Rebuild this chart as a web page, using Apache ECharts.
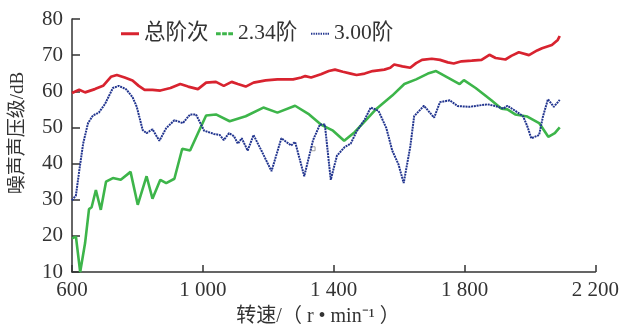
<!DOCTYPE html>
<html><head><meta charset="utf-8">
<script src="https://cdn.jsdelivr.net/npm/echarts@6/dist/echarts.min.js"></script>
<style>html,body{margin:0;padding:0;background:#fff}#c{width:622px;height:328px}</style>
</head><body><div id="c"></div>
<script>
const seriesNames = ['总阶次', '2.34阶', '3.00阶'];
const xTicks = [600, 1000, 1400, 1800, 2200];
const yTicks = [10, 20, 30, 40, 50, 60, 70, 80];
const xName = '转速/（ r • min⁻¹ ）';
const yName = '噪声声压级/dB';

const totalRpm = [600,622,640,670,695,719,737,761,785,804,822,846,870,901,931,955,985,1010,1040,1064,1088,1107,1131,1155,1192,1228,1276,1301,1313,1331,1361,1385,1404,1428,1452,1470,1495,1519,1555,1573,1585,1610,1634,1652,1670,1700,1725,1749,1767,1791,1822,1852,1876,1895,1925,1943,1966,1997,2022,2037,2067,2085,2091];
const totalVal = [59.5,60.4,59.7,60.6,61.5,64,64.5,63.8,63,61.5,60.4,60.4,60.2,60.9,62,61.3,60.6,62.4,62.6,61.5,62.6,62,61.3,62.4,63,63.3,63.3,63.8,64.2,63.8,64.7,65.6,66,65.4,64.9,64.5,64.9,65.6,66,66.5,67.4,66.9,66.5,67.8,68.7,69,68.7,68,67.7,68.3,68.5,68.7,70.1,69.2,68.8,69.8,70.8,70,71.3,71.9,72.8,74.2,75.3];

const o234Rpm = [600,612,625,640,652,660,673,688,704,725,749,779,801,828,846,870,888,913,937,961,985,1010,1040,1082,1131,1185,1228,1282,1325,1361,1398,1432,1464,1495,1531,1579,1616,1652,1688,1713,1749,1785,1798,1834,1882,1913,1931,1955,1992,2028,2056,2076,2091];
const o234Val = [19.3,19.8,10,18,27.4,27.9,32.7,27.2,35,36,35.5,37.7,28.6,36.5,30.3,35.5,34.6,35.8,44.1,43.6,48.4,53.3,53.6,51.7,53.1,55.5,54.1,56,53.6,50.8,49.1,46.3,48.7,51.7,55.2,58.8,62,63.3,64.9,65.6,63.8,62,63.1,60.9,57.5,55.2,55,53.6,53,51.2,47.4,48.4,50];

const o300Rpm = [600,612,622,634,649,664,682,701,707,725,743,765,785,798,804,816,828,846,867,888,913,939,961,979,1004,1034,1052,1064,1080,1095,1107,1119,1137,1155,1179,1210,1240,1270,1282,1310,1337,1358,1373,1391,1410,1434,1452,1470,1495,1513,1537,1561,1579,1598,1614,1634,1646,1676,1707,1725,1755,1779,1816,1846,1870,1895,1919,1931,1955,1979,1992,2004,2028,2040,2055,2073,2091];
const o300Val = [29.8,31.2,37.9,45.5,51.2,53.3,54.1,56.5,56.6,60.9,61.5,60.6,58.4,55.7,55.5,49.3,48.4,49.5,46.3,49.8,52,51.2,53.6,53.6,49.1,48.2,47.9,46.5,48.4,47.6,45.5,47,43.6,47.9,43.6,37.9,47,45,46,36.5,46.5,50.8,50.8,35.5,42.2,44.6,45.5,48.9,52.2,55.5,54.6,49.8,43.6,39.8,34.6,44.6,53.1,56,52.7,57,57.5,55.9,55.7,56.1,56.4,55.9,55.2,56,54.6,53.1,50.3,47,47.9,53.1,57.8,55.7,57.6];

const markRpm = [1337];
const markVal = [44.1];

const pair = (xs, ys) => xs.map((x, i) => [x, ys[i]]);
const FONT = '"Liberation Serif","Noto Sans CJK SC",serif';
const colors = ['#d8232f', '#3db54a', '#22358f'];
const legendLeft = [121, 216, 311];
const legendIcon = [
  'rect',
  'path://M0,0h5v3h-5zM6.5,0h5v3h-5zM13,0h5v3h-5z',
  'path://M0,0h1.4v2h-1.4zM2.4,0h1.4v2h-1.4zM4.8,0h1.4v2h-1.4zM7.2,0h1.4v2h-1.4zM9.6,0h1.4v2h-1.4zM12,0h1.4v2h-1.4zM14.4,0h1.4v2h-1.4zM16.6,0h1.4v2h-1.4z'
];
const legendIconW = [18, 17, 18];
const legendIconH = [3, 3, 2];

const chart = echarts.init(document.getElementById('c'), null, {renderer: 'canvas'});
chart.setOption({
  animation: false,
  grid: {left: 72, right: 25, top: 19, bottom: 56, containLabel: false},
  legend: seriesNames.map((n, i) => ({
    top: 23, left: legendLeft[i], padding: 0, itemGap: 0,
    itemWidth: legendIconW[i], itemHeight: legendIconH[i],
    textStyle: {fontFamily: FONT, fontSize: 21.5, color: '#333'},
    data: [{name: n, icon: legendIcon[i]}]
  })),
  xAxis: {
    type: 'value', min: 600, max: 2200, interval: 400,
    axisLine: {lineStyle: {color: '#333', width: 1.5}},
    axisTick: {inside: true, length: 7, lineStyle: {color: '#333', width: 1.5}},
    axisLabel: {fontFamily: FONT, fontSize: 21, color: '#333', margin: 8,
      formatter: v => String(v).replace(/(\d)(\d{3})$/, '$1 $2')},
    splitLine: {show: false}
  },
  yAxis: {
    type: 'value', min: 10, max: 80, interval: 10,
    axisLine: {show: true, lineStyle: {color: '#333', width: 1.5}},
    axisTick: {show: true, inside: true, length: 8, lineStyle: {color: '#333', width: 1.5}},
    axisLabel: {fontFamily: FONT, fontSize: 21, color: '#333', margin: 9},
    splitLine: {show: false}
  },
  graphic: [
    {type: 'text', x: 318, y: 317, style: {text: xName, font: '20px ' + FONT, fill: '#333', textAlign: 'center', textVerticalAlign: 'middle'}},
    {type: 'text', x: 18, y: 133, rotation: Math.PI / 2, style: {text: yName, font: '19px ' + FONT, fill: '#333', textAlign: 'center', textVerticalAlign: 'middle'}}
  ],
  series: [
    {name: seriesNames[0], type: 'line', symbol: 'none', data: pair(totalRpm, totalVal),
      lineStyle: {color: colors[0], width: 2.7}, itemStyle: {color: colors[0]}},
    {name: seriesNames[1], type: 'line', symbol: 'none', data: pair(o234Rpm, o234Val),
      lineStyle: {color: colors[1], width: 2.6}, itemStyle: {color: colors[1]}},
    {name: seriesNames[2], type: 'line', symbol: 'none', data: pair(o300Rpm, o300Val),
      lineStyle: {color: colors[2], width: 2, type: [2, 0.8]}, itemStyle: {color: colors[2]}},
    {name: 'mark', type: 'scatter', data: pair(markRpm, markVal), symbol: 'rect', symbolSize: 4,
      itemStyle: {color: '#fff', borderColor: '#888', borderWidth: 1}, silent: true}
  ]
});
</script></body></html>
